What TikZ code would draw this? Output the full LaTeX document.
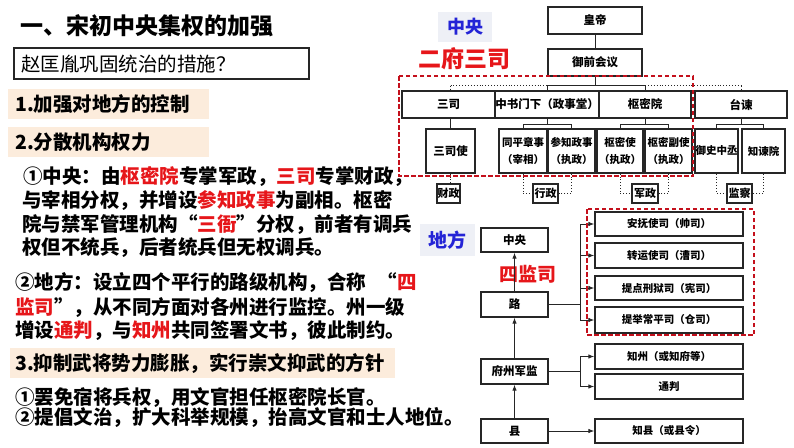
\documentclass[tikz,border=0pt]{standalone}
\usepackage{fontspec}
\setmainfont{Noto Sans CJK SC}
\usetikzlibrary{arrows.meta,calc}
\definecolor{hired}{RGB}{230,22,26}
\definecolor{dashred}{RGB}{196,16,28}
\definecolor{ttblue}{RGB}{36,36,214}
\definecolor{peach}{RGB}{252,236,220}
\definecolor{bluebg}{RGB}{238,240,246}
\newcommand\hl[1]{\textcolor{hired}{#1}}
\newcommand\cbox[7][]{\node[cbx,#1, minimum width={(#5-#3)*1pt}, minimum height={(#6-#4)*1pt}] (#2) at ({(#3+#5)/2},{(#4+#6)/2}) {#7};}
\tikzset{
  cbx/.style={draw=black!85, line width=1.3pt, fill=white, inner sep=0pt, align=center,
              font=\fontsize{11.5}{17}\selectfont\bfseries},
  small/.style={font=\fontsize{10.5}{16.5}\selectfont\bfseries},
  lbl/.style={font=\fontsize{11}{12}\selectfont\bfseries},
  txt/.style={anchor=west, inner sep=0pt, font=\fontsize{19.5}{20}\selectfont\bfseries},
  conn/.style={line width=0.9pt, black!85},
  dconn/.style={line width=0.9pt, black!85, dotted},
  arr/.style={conn, -{Latex[length=6pt,width=4.5pt]}},
  reddash/.style={draw=dashred, line width=1.6pt, dash pattern=on 4.5pt off 2.5pt},
}
\begin{document}
\begin{tikzpicture}[x=1pt,y=-1pt]
\useasboundingbox (0,0) rectangle (794,447);
% ---------- left text ----------
\node[txt, font=\fontsize{23}{24}\selectfont\bfseries] (title) at (20,26) {一、宋初中央集权的加强};
\node[draw=black!85, line width=1.2pt, minimum width=295pt, minimum height=31pt, inner sep=0pt] (qbox) at (161.5,63.5) {};
\node[txt, font=\fontsize{19.5}{20}\selectfont] (q) at (21,64) {赵匡胤巩固统治的措施？};
\node[fill=peach, minimum width=201pt, minimum height=30pt, inner sep=0pt] (bg1) at (108.5,104) {};
\node[txt] (h1) at (15,104) {1.加强对地方的控制};
\node[fill=peach, minimum width=201pt, minimum height=30pt, inner sep=0pt] (bg2) at (108.5,142) {};
\node[txt] (h2) at (15,142) {2.分散机构权力};
\node[txt] (l1) at (23,177) {①中央：由\hl{枢密院}专掌军政，\hl{三司}专掌财政，};
\node[txt] (l2) at (22,201) {与宰相分权，并增设\hl{参知政事}为副相。枢密};
\node[txt] (l3) at (22,225) {院与禁军管理机构“\hl{三衙}”分权，前者有调兵};
\node[txt] (l4) at (22,248) {权但不统兵，后者统兵但无权调兵。};
\node[txt] (l5) at (15,283) {②地方：设立四个平行的路级机构，合称\hspace{0.6em}“\hl{四}};
\node[txt] (l6) at (15,308) {\hl{监司}”，从不同方面对各州进行监控。州一级};
\node[txt] (l7) at (15,331) {增设\hl{通判}，与\hl{知州}共同签署文书，彼此制约。};
\node[fill=peach, minimum width=385pt, minimum height=30pt, inner sep=0pt] (bg3) at (202.5,363) {};
\node[txt] (h3) at (15,364) {3.抑制武将势力膨胀，实行崇文抑武的方针};
\node[txt] (l8) at (15,398) {①罢免宿将兵权，用文官担任枢密院长官。};
\node[txt] (l9) at (15,417) {②提倡文治，扩大科举规模，抬高文官和士人地位。};
% ---------- labels ----------
\node[fill=bluebg, minimum width=54pt, minimum height=30pt, inner sep=0pt, text=ttblue, font=\fontsize{18}{18}\selectfont\bfseries] (lzy) at (465,27) {中央};
\node[inner sep=0pt, text=hired, font=\fontsize{23}{23}\selectfont\bfseries] (lef) at (464,59) {二府三司};
\node[fill=bluebg, minimum width=55pt, minimum height=32pt, inner sep=0pt, text=ttblue, font=\fontsize{19}{19}\selectfont\bfseries] (ldf) at (447,240) {地方};
\node[inner sep=0pt, text=hired, font=\fontsize{19}{19}\selectfont\bfseries] (lsj) at (528,274) {四监司};
% ---------- top chart ----------
\cbox{emp}{548}{7}{642}{34}{皇帝}
\cbox{yq}{548}{49}{642}{76}{御前会议}
\cbox{ss}{402}{91}{495}{118}{三司}
\cbox{zs}{499}{91}{595}{118}{中书门下（政事堂）}
\cbox{sm}{599}{91}{691}{118}{枢密院}
\cbox{tj}{695}{91}{787}{118}{台谏}
\cbox{ssy}{426}{129}{475}{173}{三司使}
\cbox[small]{tp}{499}{129}{547}{173}{同平章事\\（宰相）}
\cbox[small]{cz}{548}{129}{595}{173}{参知政事\\（执政）}
\cbox[small]{smz}{597}{129}{643}{173}{枢密使\\（执政）}
\cbox[small]{smf}{645}{129}{692}{173}{枢密副使\\（执政）}
\cbox[small]{ys}{695}{129}{738}{173}{御史中丞}
\cbox[small]{zj}{742}{129}{785}{173}{知谏院}
\cbox[lbl]{cai}{437}{184}{460}{203}{财政}
\cbox[lbl]{xing}{533}{184}{558}{203}{行政}
\cbox[lbl]{jun}{632}{184}{658}{203}{军政}
\cbox[lbl]{jian}{727}{184}{752}{203}{监察}
% connectors
\draw[conn] (emp) -- (yq);
\coordinate (hub) at ($(yq.south)+(0,9)$);
\draw[conn] (yq.south) -- (hub);
\draw[dconn] (ssy.north |- hub) -- (zs.north |- hub);
\draw[conn] (zs.north |- hub) -- (sm.north |- hub);
\draw[dconn] (sm.north |- hub) -- (tj.north |- hub);
\draw[dconn] (ssy.north |- hub) -- (ssy.north |- ss.north);
\draw[conn] (zs.north |- hub) -- (zs.north);
\draw[conn] (sm.north |- hub) -- (sm.north);
\draw[dconn] (tj.north |- hub) -- (tj.north);
\coordinate (br) at (0,124.5);
\draw[conn] (ssy.north) -- (ssy.north |- ss.south);
\draw[conn] (zs.south) -- (zs.south |- br);
\draw[conn] (tp.north) |- (cz.north |- br) -- (cz.north);
\draw[conn] (sm.south) -- (sm.south |- br);
\draw[conn] (smz.north) |- (smf.north |- br) -- (smf.north);
\draw[conn] (tj.south) -- (tj.south |- br);
\draw[conn] (ys.north) |- (zj.north |- br) -- (zj.north);
\draw[dconn] (ssy.south) -- (ssy.south |- cai.north);
\draw[dconn] (tp.south) |- (xing.west);
\draw[dconn] (cz.south) |- (xing.east);
\draw[dconn] (smz.south) |- (jun.west);
\draw[dconn] (smf.south) |- (jun.east);
\draw[dconn] (ys.south) |- (jian.west);
\draw[dconn] (zj.south) |- (jian.east);
\draw[reddash] (399,76) rectangle (693,176);
% ---------- bottom chart ----------
\cbox{zy}{481}{228}{548}{252}{中央}
\cbox{lu}{481}{292}{548}{317}{路}
\cbox{fz}{481}{359}{548}{384}{府州军监}
\cbox{xian}{481}{419}{548}{443}{县}
\cbox[small]{af}{595}{212}{743}{236}{安抚使司（帅司）}
\cbox[small]{zyc}{595}{243}{743}{268}{转运使司（漕司）}
\cbox[small]{td}{595}{276}{743}{300}{提点刑狱司（宪司）}
\cbox[small]{tjc}{595}{307}{743}{333}{提举常平司（仓司）}
\cbox[small]{zz}{595}{344}{743}{369}{知州（或知府等）}
\cbox[small]{tpn}{595}{374}{743}{399}{通判}
\cbox[small]{zx}{595}{419}{743}{443}{知县（或县令）}
\draw[arr] (xian) -- (fz);
\draw[arr] (fz) -- (lu);
\draw[arr] (lu) -- (zy);
\coordinate (trk) at (580,0);
\draw[conn] (lu.east) -- (lu.east -| trk);
\draw[conn] (af.west -| trk) -- (tjc.west -| trk);
\draw[arr] (af.west -| trk) -- (af.west);
\draw[arr] (zyc.west -| trk) -- (zyc.west);
\draw[arr] (td.west -| trk) -- (td.west);
\draw[arr] (tjc.west -| trk) -- (tjc.west);
\draw[conn] (fz.east) -- (fz.east -| trk);
\draw[conn] (zz.west -| trk) -- (tpn.west -| trk);
\draw[arr] (zz.west -| trk) -- (zz.west);
\draw[arr] (tpn.west -| trk) -- (tpn.west);
\draw[arr] (xian) -- (zx);
\draw[reddash] (587,209) rectangle (754,335);
\end{tikzpicture}
\end{document}
